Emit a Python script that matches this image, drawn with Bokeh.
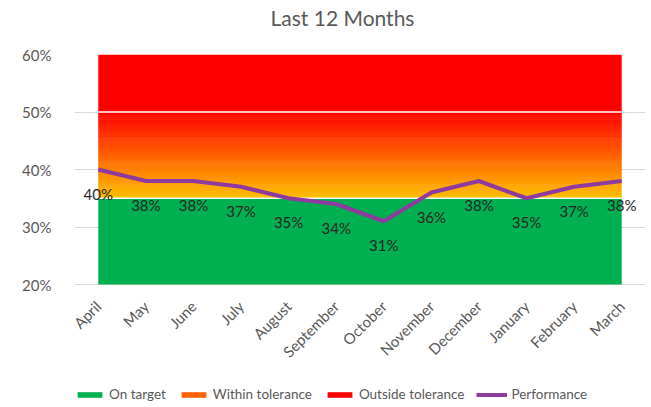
import numpy as np
from bokeh.plotting import figure
from bokeh.models import (FactorRange, Range1d, FixedTicker, Legend, LegendItem,
                          NumeralTickFormatter, Title)
from bokeh.embed import file_html
from bokeh.resources import INLINE
from bokeh.core.properties import value

months = ["April", "May", "June", "July", "August", "September", "October",
          "November", "December", "January", "February", "March"]
performance = [0.40, 0.38, 0.38, 0.37, 0.35, 0.34, 0.31, 0.36, 0.38, 0.35, 0.37, 0.38]
axis_floor = [0.20] * 12
target_top = [0.35] * 12
tolerance_top = [0.50] * 12
outside_top = [0.60] * 12
y_ticks = [0.2, 0.3, 0.4, 0.5, 0.6]

FONT = "Lato"
GRAY = "#595959"

# plot area: 20%..60% occupy 230 px; the frame extends further down to hold
# the month labels and the legend
FRAME_H = 352
PX_PER_UNIT = 230 / 0.4
y_top = 0.6
y_bottom = y_top - FRAME_H / PX_PER_UNIT

p = figure(frame_width=571, frame_height=FRAME_H, x_range=FactorRange(factors=months),
           y_range=Range1d(y_bottom, y_top), output_backend="svg", toolbar_location=None,
           x_axis_location=None,
           min_border_left=74, min_border_right=5, min_border_top=54, min_border_bottom=0,
           title="Last 12 Months")
p.outline_line_color = None
p.title.align = "left"
p.title.offset = 196
p.title.vertical_align = "top"
p.title.text_font = FONT
p.title.text_font_size = "21px"
p.title.text_font_style = "normal"
p.title.text_color = GRAY
p.title.standoff = 8
p.add_layout(Title(text=" ", text_font_size="2px", standoff=15), "above")

# On target
r_green = p.varea(x=months, y1=axis_floor, y2=target_top, fill_color="#00B050")
# Within tolerance gradient as thin bands
lo = np.array(target_top)
hi = np.array(tolerance_top)
n = 45
c0 = np.array([255, 192, 0])
c1 = np.array([255, 0, 0])
bands = []
for i in range(n):
    f0, f1 = i / n, (i + 1) / n
    fm = (i + 0.5) / n
    c = (c0 * (1 - fm) + c1 * fm).round().astype(int)
    col = "#%02X%02X%02X" % tuple(c)
    r = p.varea(x=months, y1=list(lo + (hi - lo) * f0), y2=list(lo + (hi - lo) * f1 + 0.0008),
                fill_color=col)
    bands.append(r)
# Outside tolerance
r_red = p.varea(x=months, y1=tolerance_top, y2=outside_top, fill_color="#FF0000")
p.line(x=months, y=target_top, line_color="white", line_width=1.5)
p.line(x=months, y=tolerance_top, line_color="white", line_width=1.5)

r_perf = p.line(x=months, y=performance, line_color="#8E3A9E", line_width=4, line_join="round")
labels = ["%d%%" % round(v * 100) for v in performance]
p.text(x=months, y=performance, text=labels, y_offset=24, text_align="center",
       text_baseline="middle", text_font=value(FONT), text_font_size="15px", text_color="#262626")

# month labels under the category axis line, rotated 45 degrees
p.text(x=months, y=axis_floor, text=months, angle=np.pi / 4, x_offset=0, y_offset=19,
       text_align="right", text_baseline="middle", text_font=value(FONT),
       text_font_size="15px", text_color=GRAY)

p.xgrid.grid_line_color = None
p.ygrid.grid_line_color = "#D9D9D9"
p.ygrid.ticker = FixedTicker(ticks=y_ticks)
p.yaxis.ticker = FixedTicker(ticks=y_ticks)
p.yaxis.formatter = NumeralTickFormatter(format="0%")
p.yaxis.major_tick_line_color = None
p.yaxis.minor_tick_line_color = None
p.yaxis.major_label_text_font = FONT
p.yaxis.major_label_text_color = GRAY
p.yaxis.axis_line_color = None
p.yaxis.major_label_text_font_size = "15px"
p.yaxis.major_label_standoff = 17

legend = Legend(items=[
    LegendItem(label="On target", renderers=[r_green]),
    LegendItem(label="Within tolerance", renderers=[bands[n // 2]]),
    LegendItem(label="Outside tolerance", renderers=[r_red]),
    LegendItem(label="Performance", renderers=[r_perf]),
], orientation="horizontal", location=(0, 4))
legend.label_text_font = FONT
legend.label_text_font_size = "13.5px"
legend.label_text_color = GRAY
legend.glyph_width = 31
legend.glyph_height = 7
legend.spacing = 12
legend.label_standoff = 4
legend.padding = 0
legend.margin = 0
legend.border_line_color = None
legend.background_fill_alpha = 0
p.add_layout(legend, "center")

open("out.html", "w").write(file_html(p, INLINE))
